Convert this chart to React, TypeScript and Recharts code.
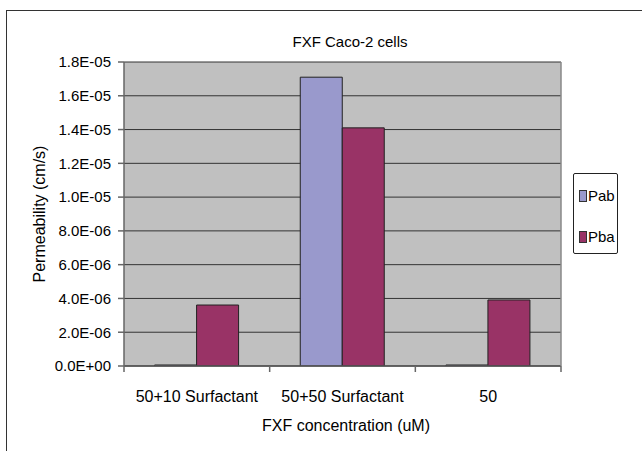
import React from 'react';
import { BarChart, Bar, XAxis, YAxis, CartesianGrid, Legend } from 'recharts';

const categories = ['50+10 Surfactant', '50+50 Surfactant', '50'];
const pab = [6e-8, 1.71e-5, 6e-8];
const pba = [3.61e-6, 1.41e-5, 3.91e-6];
const yTicks = [0, 2e-6, 4e-6, 6e-6, 8e-6, 1e-5, 1.2e-5, 1.4e-5, 1.6e-5, 1.8e-5];

const data = categories.map((c, i) => ({ name: c, Pab: pab[i], Pba: pba[i] }));

const FONT = '"Liberation Sans", Arial, sans-serif';
const PAB_COLOR = '#9999CC';
const PBA_COLOR = '#993366';

function fmtExp(v: number): string {
  if (v === 0) return '0.0E+00';
  const e = Math.floor(Math.log10(Math.abs(v)) + 1e-9);
  const m = v / Math.pow(10, e);
  const sign = e < 0 ? '-' : '+';
  const ae = Math.abs(e);
  return m.toFixed(1) + 'E' + sign + (ae < 10 ? '0' + ae : String(ae));
}

const XTick = (props: any) => {
  const { x, y, payload, width, visibleTicksCount, index } = props;
  const n = visibleTicksCount || categories.length;
  const band = (typeof width === 'number' ? width : 437) / n;
  const axisY = y - 6;
  return (
    <g>
      <line x1={x - band / 2} x2={x - band / 2} y1={axisY} y2={axisY + 6} stroke="#666" strokeWidth={1.5} />
      {index === n - 1 && (
        <line x1={x + band / 2} x2={x + band / 2} y1={axisY} y2={axisY + 6} stroke="#666" strokeWidth={1.5} />
      )}
      <text x={x} y={y + 24} dy="0.35em" textAnchor="middle" fontSize={16} fontFamily={FONT} fill="#000">
        {payload.value}
      </text>
    </g>
  );
};

const LegendBox = () => (
  <div
    style={{
      width: 45,
      height: 81,
      boxSizing: 'border-box',
      border: '1px solid #222',
      borderRadius: 2,
      background: '#fff',
      fontFamily: FONT,
      fontSize: 15,
      position: 'relative',
    }}
  >
    {[
      { label: 'Pab', color: PAB_COLOR, top: 12 },
      { label: 'Pba', color: PBA_COLOR, top: 53 },
    ].map((it) => (
      <div key={it.label} style={{ position: 'absolute', left: 5, top: it.top, height: 20, display: 'flex', alignItems: 'center' }}>
        <span
          style={{
            display: 'inline-block',
            width: 6,
            height: 10,
            background: it.color,
            border: '1px solid #333',
            marginRight: 1,
          }}
        />
        <span style={{ lineHeight: '20px', color: '#000' }}>{it.label}</span>
      </div>
    ))}
  </div>
);

export default function App() {
  return (
    <div style={{ position: 'absolute', left: 0, top: 0, width: 642, height: 451, overflow: 'hidden', background: '#fff' }}>
      <div
        style={{
          position: 'absolute',
          left: 6,
          top: 10,
          width: 700,
          height: 500,
          border: '1.5px solid #333',
          boxSizing: 'border-box',
        }}
      />
      <div style={{ position: 'absolute', left: 0, top: 0 }}>
        <BarChart
          width={642}
          height={451}
          data={data}
          margin={{ top: 62, right: 80, bottom: 25, left: 6 }}
          barCategoryGap="21%"
          barGap={0}
        >
          <CartesianGrid vertical={false} fill="#C0C0C0" stroke="#333" strokeWidth={1} />
          <XAxis
            dataKey="name"
            height={60}
            tickLine={false}
            tickSize={6}
            tickMargin={0}
            axisLine={{ stroke: '#555', strokeWidth: 1.5 }}
            tick={<XTick />}
            interval={0}
          />
          <YAxis
            width={118}
            domain={[0, 1.8e-5]}
            ticks={yTicks}
            tickFormatter={fmtExp}
            tickSize={6}
            tickMargin={7}
            axisLine={{ stroke: '#666', strokeWidth: 1.5 }}
            tickLine={{ stroke: '#666', strokeWidth: 1.5 }}
            tick={{ fontSize: 15, fontFamily: FONT, fill: '#000' }}
            allowDataOverflow
          />
          <YAxis
            yAxisId="right"
            orientation="right"
            width={1}
            tick={false}
            tickLine={false}
            axisLine={{ stroke: '#888', strokeWidth: 1.5 }}
          />
          <Bar dataKey="Pab" fill={PAB_COLOR} stroke="#222" strokeWidth={1} isAnimationActive={false} />
          <Bar dataKey="Pba" fill={PBA_COLOR} stroke="#222" strokeWidth={1} isAnimationActive={false} />
          <Legend
            layout="horizontal"
            verticalAlign="middle"
            align="center"
            content={<LegendBox />}
            wrapperStyle={{ position: 'absolute', left: 573, top: 173, width: 45, height: 81 }}
          />
        </BarChart>
      </div>
      <div
        style={{
          position: 'absolute',
          left: 250,
          top: 33,
          width: 200,
          lineHeight: '18px',
          textAlign: 'center',
          fontFamily: FONT,
          fontSize: 15,
          color: '#000',
        }}
      >
        FXF Caco-2 cells
      </div>
      <div
        style={{
          position: 'absolute',
          left: -60,
          top: 204,
          width: 200,
          height: 20,
          lineHeight: '20px',
          textAlign: 'center',
          fontFamily: FONT,
          fontSize: 16,
          color: '#000',
          transform: 'rotate(-90deg)',
        }}
      >
        Permeability (cm/s)
      </div>
      <div
        style={{
          position: 'absolute',
          left: 246,
          top: 416,
          width: 200,
          height: 20,
          lineHeight: '20px',
          textAlign: 'center',
          fontFamily: FONT,
          fontSize: 16,
          color: '#000',
        }}
      >
        FXF concentration (uM)
      </div>
    </div>
  );
}
